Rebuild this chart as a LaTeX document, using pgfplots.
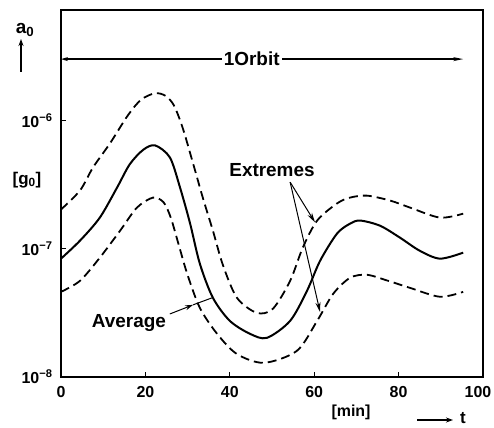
\documentclass[border=0pt]{standalone}
\usepackage{pgfplots}
\pgfplotsset{compat=1.18}
\usepackage{fontspec}
\setmainfont{Liberation Sans}
\usetikzlibrary{arrows.meta}
\begin{document}
\begin{tikzpicture}[font=\bfseries]
\begin{axis}[
  scale only axis,
  width=422bp, height=367bp,
  xmin=0, xmax=100,
  ymode=log, ymin=1e-8, ymax=7.24e-6,
  axis line style={line width=1.8pt},
  tick align=inside, xtick pos=bottom, ytick pos=left,
  major tick length=5bp,
  tick style={line width=1.2pt, black},
  yminorticks=false, xminorticks=false,
  xtick={0,20,40,60,80,100},
  xticklabels={0,20,40,60,80,\kern-10bp 100},
  ytick={1e-8,1e-7,1e-6},
  yticklabels={10\textsuperscript{−8},10\textsuperscript{−7},10\textsuperscript{−6}},
  ticklabel style={font=\fontsize{16}{18}\selectfont\bfseries},
  xticklabel style={yshift=-6bp},
  yticklabel style={xshift=-5bp},
  clip=false,
]
% upper extreme
\addplot[black, line width=1.8pt, dash pattern=on 9bp off 5bp, smooth] coordinates {
(0,2.02e-7) (4.5,2.84e-7) (7.6,4.30e-7) (11.6,6.61e-7) (15.9,1.10e-6) (19,1.45e-6) (22.3,1.626e-6) (24.8,1.55e-6) (26.8,1.30e-6) (28.9,8.6e-7) (31.3,4.61e-7) (33.6,2.50e-7) (36.0,1.38e-7) (38.4,7.4e-8) (41.7,4.14e-8) (46.4,3.16e-8) (50.2,3.40e-8) (54.3,5.62e-8) (57.3,1.02e-7) (60.7,1.656e-7) (65.4,2.25e-7) (68.5,2.50e-7) (72.5,2.59e-7) (78,2.37e-7) (82.7,2.09e-7) (89.8,1.746e-7) (95.3,1.875e-7)
};
% average
\addplot[black, line width=2pt, smooth] coordinates {
(0,8.36e-8) (4.5,1.155e-7) (9.2,1.746e-7) (13.3,3.0e-7) (16.3,4.55e-7) (19.5,5.9e-7) (22.3,6.38e-7) (25.8,5.14e-7) (28.2,3.0e-7) (30.6,1.567e-7) (32.9,7.64e-8) (36.0,4.14e-8) (40.0,2.74e-8) (44.8,2.17e-8) (48.8,2.02e-8) (54.3,2.74e-8) (58.3,4.70e-8) (61.4,8.05e-8) (65.4,1.31e-7) (68.5,1.567e-7) (70.9,1.656e-7) (75.6,1.51e-7) (80.3,1.22e-7) (85,9.64e-8) (89.8,8.36e-8) (95.3,9.31e-8)
};
% lower extreme
\addplot[black, line width=1.8pt, dash pattern=on 9bp off 5bp, smooth] coordinates {
(0,4.61e-8) (4.5,5.62e-8) (9.2,8.51e-8) (14.0,1.38e-7) (18.0,2.09e-7) (21.8,2.50e-7) (24.3,2.30e-7) (26.0,1.75e-7) (27.8,1.10e-7) (29.9,6.38e-8) (32.9,3.46e-8) (37.0,2.17e-8) (41.7,1.51e-8) (48.1,1.29e-8) (55.9,1.60e-8) (60.7,2.74e-8) (64.5,4.45e-8) (68.5,5.93e-8) (72.5,6.26e-8) (77.5,5.62e-8) (82.7,4.95e-8) (89.8,4.22e-8) (95.3,4.61e-8)
};
% orbit arrow
\draw[line width=1.3pt, {Stealth[open,length=7bp,width=4bp]}-{Stealth[open,length=10bp,width=4bp]}] (axis cs:0,3.0e-6) -- (axis cs:95.3,3.0e-6);
\node[fill=white, inner sep=2pt, font=\fontsize{19}{21}\selectfont\bfseries] at (axis cs:45.2,3.0e-6) {1Orbit};
% extremes
\node[font=\fontsize{19}{21}\selectfont\bfseries] at (axis cs:50.0,4.07e-7) {Extremes};
\draw[line width=1pt, -{Stealth[open,length=10bp,width=5bp]}] (axis cs:54.3,3.3e-7) -- (axis cs:60.2,1.6e-7);
\draw[line width=1pt, -{Stealth[open,length=10bp,width=5bp]}] (axis cs:54.3,3.3e-7) -- (axis cs:61.4,3.2e-8);
% average
\node[font=\fontsize{19}{21}\selectfont\bfseries] at (axis cs:16.1,2.64e-8) {Average};
\draw[line width=1pt, -{Stealth[open,length=8bp,width=5bp]}] (axis cs:25.8,3.10e-8) -- (axis cs:31.3,3.65e-8);
\draw[line width=1pt] (axis cs:31.3,3.65e-8) -- (axis cs:35.8,4.14e-8);
\coordinate (SW) at (rel axis cs:0,0);
\coordinate (NE) at (rel axis cs:1,1);
\end{axis}
% outer labels
\node[font=\fontsize{19}{21}\selectfont\bfseries] at ([shift={(-36bp,347bp)}]SW) {a\textsubscript{0}};
\draw[line width=1.5pt, -{Stealth[length=7bp,width=5bp]}] ([shift={(-40bp,305bp)}]SW) -- ([shift={(-40bp,338bp)}]SW);
\node[font=\fontsize{17}{19}\selectfont\bfseries] at ([shift={(-34bp,197bp)}]SW) {[g\textsubscript{0}]};
\node[font=\fontsize{16}{18}\selectfont\bfseries] at ([shift={(290bp,-35bp)}]SW) {[min]};
\draw[line width=1.5pt, -{Stealth[length=7bp,width=5bp]}] ([shift={(356bp,-43bp)}]SW) -- ([shift={(392bp,-43bp)}]SW);
\node[font=\fontsize{17}{19}\selectfont\bfseries] at ([shift={(402bp,-41bp)}]SW) {t};
\pgfresetboundingbox
\path ([shift={(-61bp,-51bp)}]SW) rectangle ([shift={(11bp,10bp)}]NE);
\end{tikzpicture}
\end{document}
